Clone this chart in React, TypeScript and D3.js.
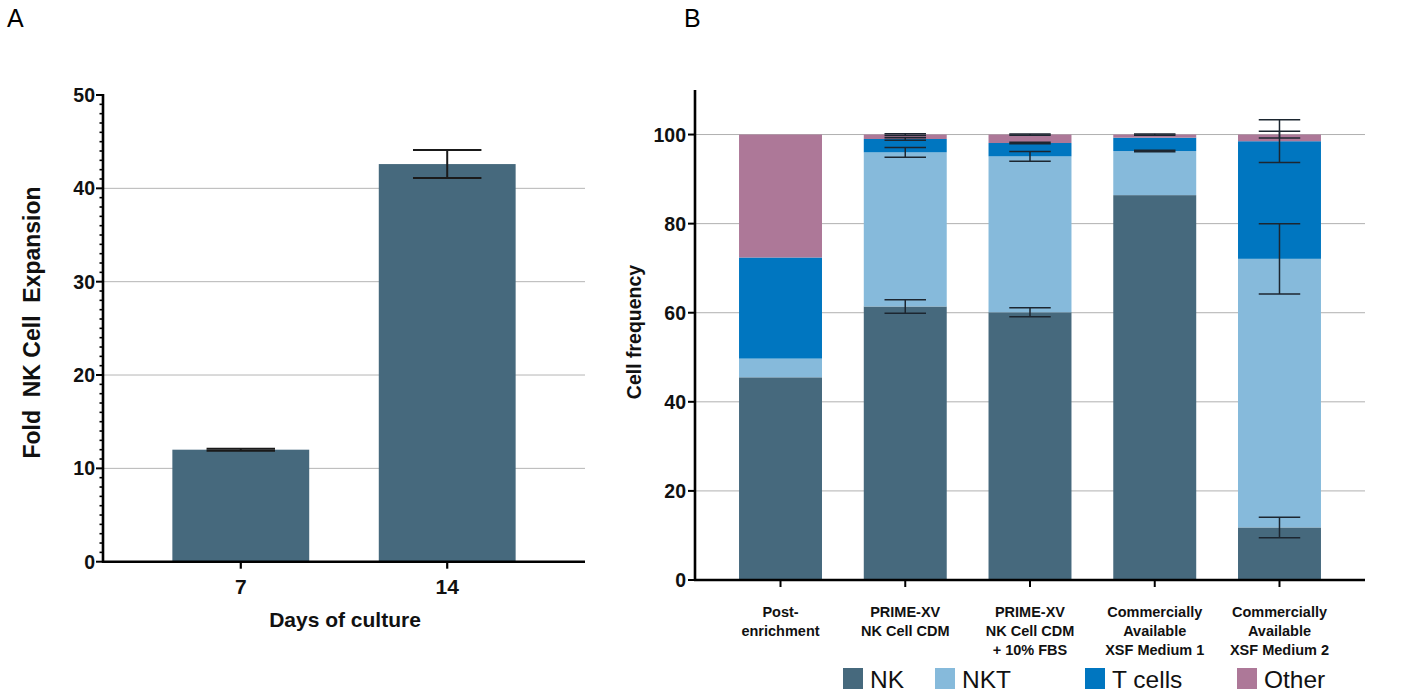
import React from "react";
import * as d3 from "d3";

// ---------- Panel A data ----------
const daysCategories = ["7", "14"];
const foldExpansion = [12.0, 42.6];
const foldExpansionSD = [0.1, 1.5];
const foldTicks = [0, 10, 20, 30, 40, 50];

// ---------- Panel B data ----------
const mediaCategories = [
  ["Post-", "enrichment"],
  ["PRIME-XV", "NK Cell CDM"],
  ["PRIME-XV", "NK Cell CDM", "+ 10% FBS"],
  ["Commercially", "Available", "XSF Medium 1"],
  ["Commercially", "Available", "XSF Medium 2"],
];
const seriesNames = ["NK", "NKT", "T cells", "Other"];
const nkValues = [45.5, 61.4, 60.1, 86.4, 11.8];
const nktValues = [4.2, 34.6, 35.0, 9.9, 60.3];
const tCellValues = [22.7, 3.0, 3.0, 3.0, 26.4];
const otherValues = [27.6, 1.0, 1.9, 0.7, 1.5];
const nkSD = [0, 1.5, 1.0, 0, 2.3];
const nktSD = [0, 1.1, 1.1, 0.15, 7.9];
const tCellSD = [0, 0.3, 0.15, 0, 4.8];
const otherSD = [0, 0.2, 0.15, 0.15, 0.75];
const freqTicks = [0, 20, 40, 60, 80, 100];

const seriesColors = ["#46697d", "#86badb", "#0076c0", "#ad7898"];
const FONT = "'Liberation Sans', Arial, Helvetica, sans-serif";

export default function App() {
  // Panel A scales
  const xA = d3.scaleBand<string>().domain(daysCategories).range([103, 585]).paddingInner(0.337).paddingOuter(0.336);
  const yA = d3.scaleLinear().domain([0, 50]).range([561.7, 95]);
  const minorA = d3.range(0, 51, 1);

  // Panel B scales
  const catKeys = mediaCategories.map((_, i) => String(i));
  const xB = d3.scaleBand<string>().domain(catKeys).range([695, 1365]).paddingInner(0.335).paddingOuter(0.353);
  const yB = d3.scaleLinear().domain([0, 110]).range([580, 90]);

  const rows = catKeys.map((k, i) => ({
    key: k,
    NK: nkValues[i],
    NKT: nktValues[i],
    "T cells": tCellValues[i],
    Other: otherValues[i],
  }));
  const stack = d3.stack<any>().keys(seriesNames)(rows);
  const sds = [nkSD, nktSD, tCellSD, otherSD];

  const errA = foldExpansion.map((v, i) => ({ x: (xA(daysCategories[i]) || 0) + xA.bandwidth() / 2, v, sd: foldExpansionSD[i] }));
  const legendX = [843, 935, 1085, 1237];

  return (
    <div style={{ position: "absolute", left: 0, top: 0 }}>
      <svg width={1405} height={694} style={{ display: "block", background: "#fff" }} fontFamily={FONT}>
        {/* Panel letters */}
        <text x={7} y={27} fontSize={25} fill="#000">A</text>
        <text x={684} y={27} fontSize={25} fill="#000">B</text>

        {/* ---------- Panel A ---------- */}
        {foldTicks.filter((t) => t > 0 && t < 50).map((t) => (
          <line key={"ga" + t} x1={103} x2={585} y1={yA(t)} y2={yA(t)} stroke="#b5b5b5" strokeWidth={1} />
        ))}
        {daysCategories.map((c, i) => (
          <rect key={"ba" + c} x={xA(c)} y={yA(foldExpansion[i])} width={xA.bandwidth()} height={yA(0) - yA(foldExpansion[i])} fill="#46697d" />
        ))}
        {errA.map((e, i) => (
          <g key={"ea" + i} stroke="#1a1a1a" strokeWidth={2}>
            <line x1={e.x} x2={e.x} y1={yA(e.v + e.sd)} y2={yA(e.v - e.sd)} />
            <line x1={e.x - xA.bandwidth() / 4} x2={e.x + xA.bandwidth() / 4} y1={yA(e.v + e.sd)} y2={yA(e.v + e.sd)} />
            <line x1={e.x - xA.bandwidth() / 4} x2={e.x + xA.bandwidth() / 4} y1={yA(e.v - e.sd)} y2={yA(e.v - e.sd)} />
          </g>
        ))}
        {/* y axis A */}
        {minorA.map((t) => (
          <line key={"ma" + t} x1={103 - (t % 10 === 0 ? 7 : 3.5)} x2={103} y1={yA(t)} y2={yA(t)} stroke="#000" strokeWidth={t % 10 === 0 ? 2 : 1.6} />
        ))}
        <line x1={103} x2={103} y1={yA(50) - 1} y2={yA(0) + 1} stroke="#000" strokeWidth={2.6} />
        <line x1={102} x2={585} y1={yA(0)} y2={yA(0)} stroke="#000" strokeWidth={2.6} />
        {foldTicks.map((t) => (
          <text key={"ta" + t} x={95} y={yA(t)} dy="0.36em" textAnchor="end" fontSize={19.5} fontWeight="bold" fill="#111">{t}</text>
        ))}
        {daysCategories.map((c) => {
          const cx = (xA(c) || 0) + xA.bandwidth() / 2;
          return (
            <g key={"xa" + c}>
              <line x1={cx} x2={cx} y1={yA(0)} y2={yA(0) + 7} stroke="#000" strokeWidth={2.2} />
              <text x={cx} y={594} textAnchor="middle" fontSize={21} fontWeight="bold" fill="#111">{c}</text>
            </g>
          );
        })}
        <text x={345} y={627} textAnchor="middle" fontSize={21} fontWeight="bold" fill="#111">Days of culture</text>
        <text transform="translate(40,322.5) rotate(-90)" textAnchor="middle" fontSize={23} fontWeight="bold" fill="#111" style={{ whiteSpace: "pre" }}>{"Fold  NK Cell  Expansion"}</text>

        {/* ---------- Panel B ---------- */}
        {freqTicks.filter((t) => t > 0).map((t) => (
          <line key={"gb" + t} x1={695} x2={1365} y1={yB(t)} y2={yB(t)} stroke="#b0b0b0" strokeWidth={1} />
        ))}
        {stack.map((s, si) => (
          <g key={"sb" + si} fill={seriesColors[si]}>
            {s.map((d: any, i: number) => (
              <rect key={i} x={xB(catKeys[i])} y={yB(d[1])} width={xB.bandwidth()} height={yB(d[0]) - yB(d[1])} />
            ))}
          </g>
        ))}
        {stack.map((s, si) => (
          <g key={"eb" + si} stroke="#1c2630" strokeWidth={1.5}>
            {s.map((d: any, i: number) => {
              const sd = sds[si][i];
              if (!sd) return null;
              const cx = (xB(catKeys[i]) || 0) + xB.bandwidth() / 2;
              const hw = xB.bandwidth() / 4;
              return (
                <g key={i}>
                  <line x1={cx} x2={cx} y1={yB(d[1] + sd)} y2={yB(d[1] - sd)} />
                  <line x1={cx - hw} x2={cx + hw} y1={yB(d[1] + sd)} y2={yB(d[1] + sd)} />
                  <line x1={cx - hw} x2={cx + hw} y1={yB(d[1] - sd)} y2={yB(d[1] - sd)} />
                </g>
              );
            })}
          </g>
        ))}
        {/* axes B */}
        <line x1={695} x2={695} y1={yB(110)} y2={yB(0) + 1} stroke="#000" strokeWidth={2.6} />
        <line x1={694} x2={1365} y1={yB(0)} y2={yB(0)} stroke="#000" strokeWidth={2.6} />
        {freqTicks.map((t) => (
          <g key={"tb" + t}>
            <line x1={688} x2={695} y1={yB(t)} y2={yB(t)} stroke="#000" strokeWidth={2} />
            <text x={686} y={yB(t)} dy="0.36em" textAnchor="end" fontSize={19.5} fontWeight="bold" fill="#111">{t}</text>
          </g>
        ))}
        {mediaCategories.map((lines, i) => {
          const cx = (xB(catKeys[i]) || 0) + xB.bandwidth() / 2;
          return (
            <g key={"xb" + i}>
              <line x1={cx} x2={cx} y1={yB(0)} y2={yB(0) + 7} stroke="#000" strokeWidth={2} />
              {lines.map((ln, li) => (
                <text key={li} x={cx} y={617 + li * 19} textAnchor="middle" fontSize={14.5} fontWeight="bold" fill="#111">{ln}</text>
              ))}
            </g>
          );
        })}
        <text transform="translate(641,332) rotate(-90)" textAnchor="middle" fontSize={19.5} fontWeight="bold" fill="#111">Cell frequency</text>

        {/* legend */}
        {seriesNames.map((n, i) => (
          <g key={"lg" + n}>
            <rect x={legendX[i]} y={668} width={20} height={21} fill={seriesColors[i]} />
            <text x={legendX[i] + 27} y={688} fontSize={24.5} fill="#111">{n}</text>
          </g>
        ))}
      </svg>
    </div>
  );
}
